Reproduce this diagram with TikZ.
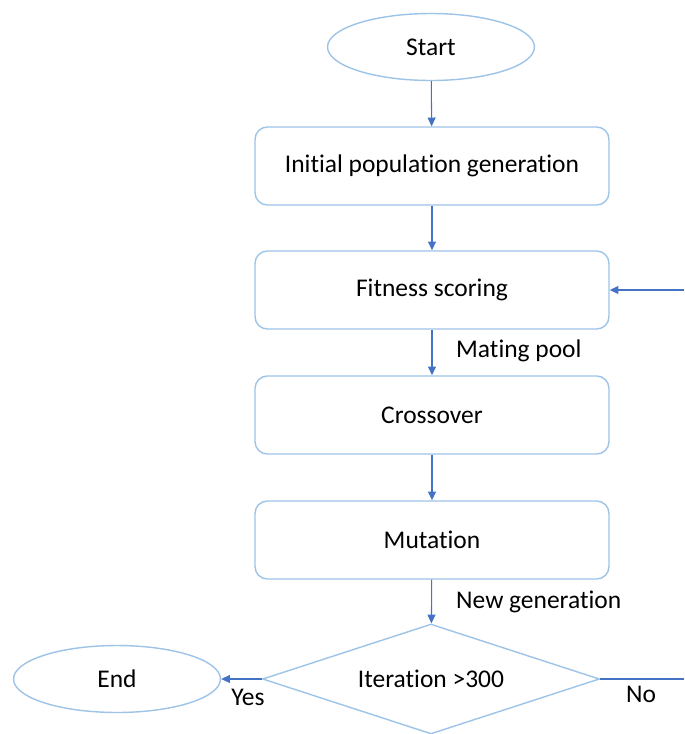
\documentclass[tikz,border=0pt]{standalone}
\usepackage{fontspec}
\setmainfont{Carlito}[Ligatures={NoCommon}]
\usetikzlibrary{shapes.geometric,arrows.meta}

\definecolor{boxline}{RGB}{157,195,230}
\definecolor{arrowline}{RGB}{68,114,196}

\begin{document}
\begin{tikzpicture}[x=0.02cm, y=-0.02cm, >={Triangle[length=5pt,width=4.5pt]},
	every node/.style={font=\fontsize{14.5}{17}\selectfont},
	stepbox/.style={draw=boxline, line width=0.8pt, rounded corners=7pt, minimum width=7.08cm, minimum height=1.56cm},
	terminal/.style={draw=boxline, line width=0.8pt, ellipse, minimum width=4.14cm, minimum height=1.34cm},
	decision/.style={draw=boxline, line width=0.8pt, diamond, aspect=3.06, inner sep=0pt, minimum width=6.74cm, minimum height=2.2cm},
	link/.style={draw=arrowline, line width=0.6pt, ->}]

	\useasboundingbox (0,0) rectangle (684,734);

	% draw terminals
	\node[terminal] (start) at (431,47) {Start};
	\node[terminal] (end) at (117,679) {End};

	% draw process steps
	\node[stepbox] (init) at (432,166) {Initial population generation};
	\node[stepbox] (fit) at (432,290) {Fitness scoring};
	\node[stepbox] (cross) at (432,415) {Crossover};
	\node[stepbox] (mut) at (432,540) {Mutation};

	% draw decision
	\node[decision] (iter) at (431,679) {Iteration >300};

	% loop ends
	\coordinate (back) at (684,290);
	\coordinate (out) at (684,679);

	% draw edges
	\draw[link] (start) -- (init);
	\draw[link] (init) -- (fit);
	\draw[link] (fit) -- (cross);
	\draw[link] (cross) -- (mut);
	\draw[link] (mut) -- (iter);
	\draw[link] (iter) -- (end);
	\draw[link, -] (iter) -- (out);
	\draw[link] (back) -- (fit.east |- back);

	% edge labels
	\node[anchor=west] (pool) at (450,351) {Mating pool};
	\node[anchor=west] (newgen) at (450,602) {New generation};
	\node (yes) at (248,697) {Yes};
	\node (no) at (641,694) {No};

\end{tikzpicture}
\end{document}
